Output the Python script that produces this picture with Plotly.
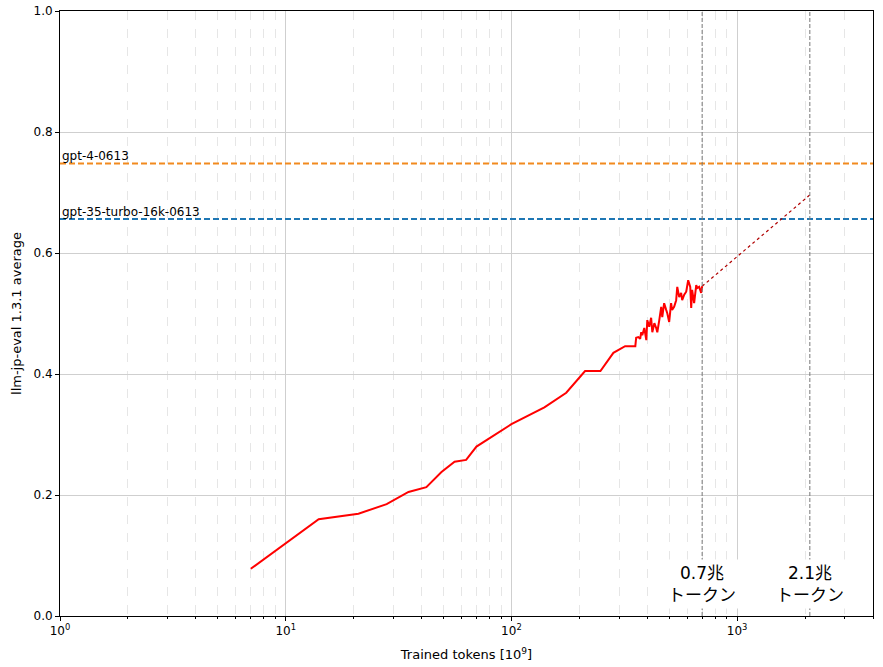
import plotly.graph_objects as go
import numpy as np

# ---- data ----
tokens = [7, 14, 21, 28, 35, 42, 49, 56, 63, 70, 100, 140, 175, 212, 248, 283, 319, 354,
          357, 365, 372, 376, 380, 388, 396, 400, 408, 416, 421, 430, 438, 443, 452, 461,
          466, 475, 485, 490, 500, 510, 515, 526, 537, 543, 554, 565, 571, 583, 595, 601,
          607, 620, 626, 632, 645, 659, 666, 679, 693, 700]
scores = [0.078, 0.160, 0.169, 0.185, 0.205, 0.213, 0.238, 0.255, 0.258, 0.280, 0.317, 0.345,
          0.369, 0.405, 0.405, 0.435, 0.446, 0.446,
          0.460, 0.461, 0.458, 0.469, 0.464, 0.476, 0.456, 0.489, 0.478, 0.493, 0.469, 0.484,
          0.476, 0.469, 0.489, 0.511, 0.494, 0.517, 0.506, 0.501, 0.486, 0.517, 0.506, 0.511,
          0.522, 0.544, 0.527, 0.534, 0.522, 0.531, 0.536, 0.544, 0.555, 0.544, 0.509, 0.539,
          0.517, 0.547, 0.542, 0.544, 0.534, 0.545]
extrap_tokens = [700, 2100]
extrap_scores = [0.545, 0.696]
ref_names = ["gpt-4-0613", "gpt-35-turbo-16k-0613"]
ref_scores = [0.748, 0.656]
ref_colors = ["#f28a1e", "#1f77b4"]
marker_tokens = [700, 2100]
marker_labels = ["0.7兆<br>トークン", "2.1兆<br>トークン"]
x_tickvals = [1, 10, 100, 1000]
x_ticktext = ["10<sup>0</sup>", "10<sup>1</sup>", "10<sup>2</sup>", "10<sup>3</sup>"]
x_range = [1, 4000]

FONT = "DejaVu Sans"

fig = go.Figure()

for name, val, col in zip(ref_names, ref_scores, ref_colors):
    fig.add_trace(go.Scatter(x=x_range, y=[val, val], mode="lines",
                             line=dict(color=col, width=2, dash="6px,3px"),
                             showlegend=False, hoverinfo="skip"))
    fig.add_annotation(x=0, xref="x", y=val, yref="y", text=name, showarrow=False,
                       xanchor="left", yanchor="bottom", xshift=0, yshift=-2,
                       font=dict(family=FONT, size=12, color="black"))

fig.add_trace(go.Scatter(x=extrap_tokens, y=extrap_scores, mode="lines",
                         line=dict(color="#b00000", width=1.2, dash="3px,3px"),
                         showlegend=False, hoverinfo="skip"))
fig.add_trace(go.Scatter(x=tokens, y=scores, mode="lines",
                         line=dict(color="red", width=2),
                         showlegend=False))

for t, lab in zip(marker_tokens, marker_labels):
    fig.add_shape(type="line", x0=t, x1=t, xref="x", y0=0, y1=1, yref="y",
                  line=dict(color="#777777", width=1, dash="4px,2px"), layer="above")
    fig.add_annotation(x=np.log10(t), xref="x", y=0.053, yref="y", text=lab, showarrow=False,
                       xanchor="center", yanchor="middle", bgcolor="white", borderpad=3,
                       font=dict(family="DejaVu Sans, Noto Sans CJK JP", size=17, color="black"))

fig.update_layout(
    width=883, height=667,
    margin=dict(l=60, r=10, t=11, b=51),
    plot_bgcolor="white", paper_bgcolor="white",
    font=dict(family=FONT, size=12, color="black"),
    xaxis=dict(
        type="log", range=[np.log10(x_range[0]), np.log10(x_range[1])],
        tickvals=x_tickvals, ticktext=x_ticktext,
        showgrid=True, gridcolor="#cfcfcf", gridwidth=1,
        ticks="outside", ticklen=4, tickcolor="black",
        showline=True, linecolor="black", linewidth=1, mirror=True,
        minor=dict(showgrid=True, gridcolor="#e6e6e6", griddash="dash", gridwidth=1,
                   ticks="outside", ticklen=2, tickcolor="black", dtick="D1"),
        title=dict(text="Trained tokens [10<sup>9</sup>]", font=dict(size=13), standoff=12),
        tickfont=dict(size=12),
        zeroline=False, automargin=False,
    ),
    yaxis=dict(
        range=[0, 1], tick0=0, dtick=0.2, tickformat=".1f",
        showgrid=True, gridcolor="#cfcfcf", gridwidth=1,
        ticks="outside", ticklen=4, tickcolor="black",
        showline=True, linecolor="black", linewidth=1, mirror=True,
        title=dict(text="llm-jp-eval 1.3.1 average", font=dict(size=13), standoff=8),
        tickfont=dict(size=12),
        zeroline=False, automargin=False,
    ),
)

fig.write_html("out.html")
